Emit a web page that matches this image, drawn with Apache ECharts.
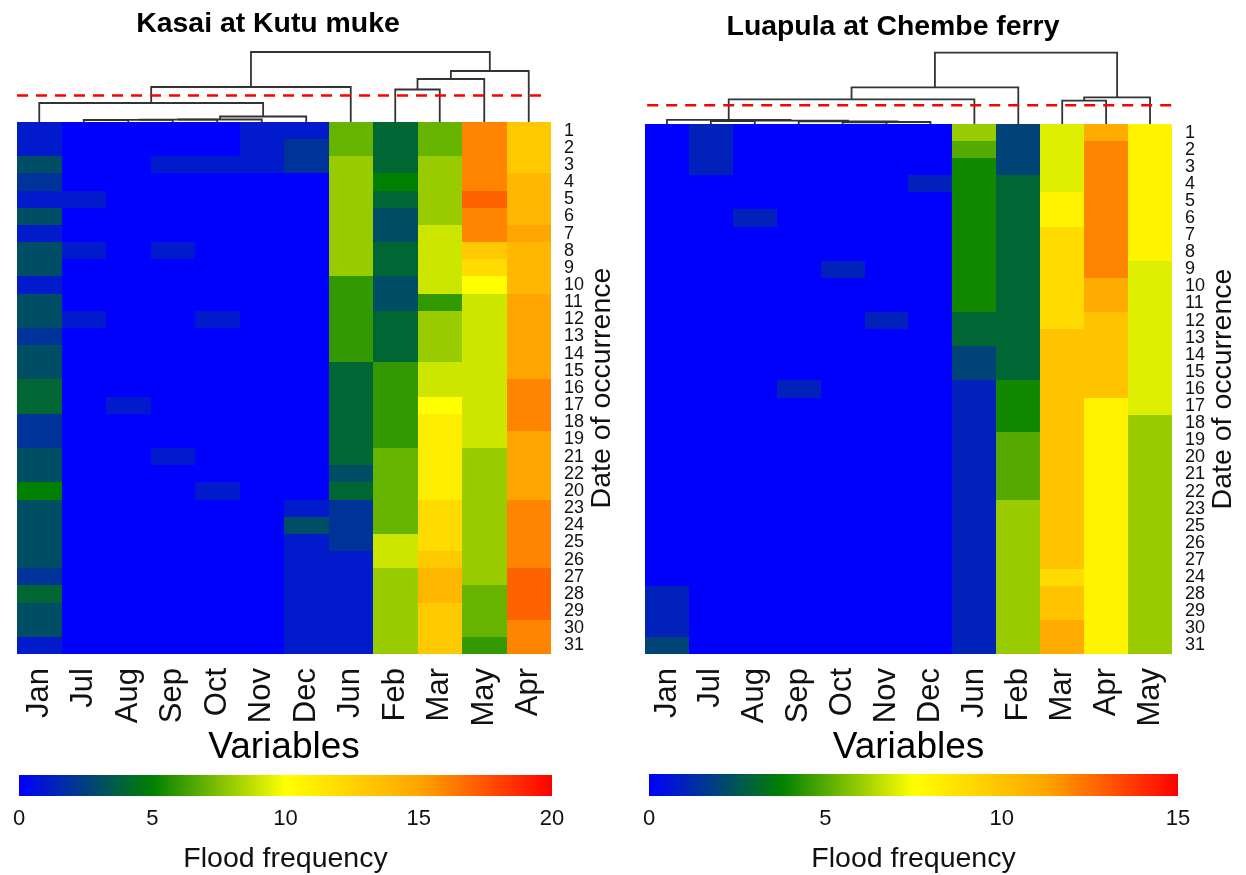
<!DOCTYPE html>
<html><head><meta charset="utf-8">
<style>html,body{margin:0;padding:0;background:#fff}#c{width:1246px;height:875px}</style>
<script src="https://cdn.jsdelivr.net/npm/echarts@6/dist/echarts.min.js"></script>
</head><body><div id="c"></div>
<script>
const FONT = '"Liberation Sans", Arial, sans-serif';
const kasaiMonths = ['Jan','Jul','Aug','Sep','Oct','Nov','Dec','Jun','Feb','Mar','May','Apr'];
const luapulaMonths = ['Jan','Jul','Aug','Sep','Oct','Nov','Dec','Jun','Feb','Mar','Apr','May'];
const kasaiDays = ['1','2','3','4','5','6','7','8','9','10','11','12','13','14','15','16','17','18','19','21','22','20','23','24','25','26','27','28','29','30','31'];
const luapulaDays = ['1','2','3','4','5','6','7','8','9','10','11','12','13','14','15','16','17','18','19','20','21','22','23','25','26','27','24','28','29','30','31'];

// Kasai at Kutu muke: flood frequency, one array per column, top row first
const kJan = [1,1,3,2,1,3,1,3,3,1,3,3,2,3,3,4,4,2,2,3,3,5,3,3,3,3,2,4,3,3,1];
const kJul = [0,0,0,0,1,0,0,1,0,0,0,1,0,0,0,0,0,0,0,0,0,0,0,0,0,0,0,0,0,0,0];
const kAug = [0,0,0,0,0,0,0,0,0,0,0,0,0,0,0,0,1,0,0,0,0,0,0,0,0,0,0,0,0,0,0];
const kSep = [0,0,1,0,0,0,0,1,0,0,0,0,0,0,0,0,0,0,0,1,0,0,0,0,0,0,0,0,0,0,0];
const kOct = [0,0,1,0,0,0,0,0,0,0,0,1,0,0,0,0,0,0,0,0,0,1,0,0,0,0,0,0,0,0,0];
const kNov = [1,1,1,0,0,0,0,0,0,0,0,0,0,0,0,0,0,0,0,0,0,0,0,0,0,0,0,0,0,0,0];
const kDec = [1,2,2,0,0,0,0,0,0,0,0,0,0,0,0,0,0,0,0,0,0,0,1,3,1,1,1,1,1,1,1];
const kJun = [7,7,8,8,8,8,8,8,8,6,6,6,6,6,4,4,4,4,4,4,3,4,2,2,2,1,1,1,1,1,1];
const kFeb = [4,4,4,5,4,3,3,4,4,3,3,4,4,4,6,6,6,6,6,7,7,7,7,7,9,9,8,8,8,8,8];
const kMar = [7,7,8,8,8,8,9,9,9,9,6,8,8,8,9,9,10,11,11,11,11,11,12,12,12,13,14,14,13,13,13];
const kMay = [16,16,16,16,17,16,16,13,12,10,9,9,9,9,9,9,9,9,9,8,8,8,8,8,8,8,8,7,7,7,6];
const kApr = [13,13,13,14,14,14,15,14,14,14,15,15,15,15,15,16,16,16,15,15,15,15,16,16,16,16,17,17,17,16,16];
const kasaiColumns = [kJan,kJul,kAug,kSep,kOct,kNov,kDec,kJun,kFeb,kMar,kMay,kApr];

// Luapula at Chembe ferry
const lJan = [0,0,0,0,0,0,0,0,0,0,0,0,0,0,0,0,0,0,0,0,0,0,0,0,0,0,0,1,1,1,2];
const lJul = [1,1,1,0,0,0,0,0,0,0,0,0,0,0,0,0,0,0,0,0,0,0,0,0,0,0,0,0,0,0,0];
const lAug = [0,0,0,0,0,1,0,0,0,0,0,0,0,0,0,0,0,0,0,0,0,0,0,0,0,0,0,0,0,0,0];
const lSep = [0,0,0,0,0,0,0,0,0,0,0,0,0,0,0,1,0,0,0,0,0,0,0,0,0,0,0,0,0,0,0];
const lOct = [0,0,0,0,0,0,0,0,1,0,0,0,0,0,0,0,0,0,0,0,0,0,0,0,0,0,0,0,0,0,0];
const lNov = [0,0,0,0,0,0,0,0,0,0,0,1,0,0,0,0,0,0,0,0,0,0,0,0,0,0,0,0,0,0,0];
const lDec = [0,0,0,1,0,0,0,0,0,0,0,0,0,0,0,0,0,0,0,0,0,0,0,0,0,0,0,0,0,0,0];
const lJun = [6,5,4,4,4,4,4,4,4,4,4,3,3,2,2,1,1,1,1,1,1,1,1,1,1,1,1,1,1,1,1];
const lFeb = [2,2,2,3,3,3,3,3,3,3,3,3,3,3,3,4,4,4,5,5,5,5,6,6,6,6,6,6,6,6,6];
const lMar = [7,7,7,7,8,8,9,9,9,9,9,9,10,10,10,10,10,10,10,10,10,10,10,10,10,10,9,10,10,11,11];
const lApr = [11,12,12,12,12,12,12,12,12,11,11,10,10,10,10,10,8,8,8,8,8,8,8,8,8,8,8,8,8,8,8];
const lMay = [8,8,8,8,8,8,8,8,7,7,7,7,7,7,7,7,7,6,6,6,6,6,6,6,6,6,6,6,6,6,6];
const luapulaColumns = [lJan,lJul,lAug,lSep,lOct,lNov,lDec,lJun,lFeb,lMar,lApr,lMay];

// Dendrograms, hclust style: negative = leaf position, positive = earlier merge, then height
const kasaiMerge = [[-2,-3,2],[1,-4,2.1],[2,-5,2.3],[3,-6,2.5],[4,-7,5.5],[-1,5,19],[6,-8,35],[-9,-10,32.5],[8,-11,43],[9,-12,51],[7,10,70]];
const luapulaMerge = [[-5,-6,1.7],[1,-7,2],[-4,2,2.6],[-2,-3,3],[4,3,3.4],[-1,5,4.2],[6,-8,24.7],[7,-9,36.7],[-10,-11,23.3],[9,-12,26.7],[8,10,71.3]];
const kasaiCut = 26.5;
const luapulaCut = 18.7;
const kasaiMax = 20;
const luapulaMax = 15;
const rampColors = ['#0000ff','#008000','#ffff00','#ffa500','#ff0000'];

function cells(cols){const out=[];cols.forEach((c,x)=>c.forEach((v,y)=>out.push([x,y,v])));return out;}
function segments(merge){
  const nodes=[];
  const get=i=>i<0?{x:-i-0.5,h:0}:nodes[i-1];
  return merge.map(m=>{
    const a=get(m[0]),b=get(m[1]);
    nodes.push({x:(a.x+b.x)/2,h:m[2]});
    return [a.x,b.x,m[2],a.h,b.h];
  });
}
const renderCell=(p,api)=>{
  const c=api.coord([api.value(0),api.value(1)]),s=api.size([1,1]);
  const x0=Math.round(c[0]-s[0]/2),x1=Math.round(c[0]+s[0]/2),y0=Math.round(c[1]-s[1]/2),y1=Math.round(c[1]+s[1]/2);
  return {type:'rect',shape:{x:x0,y:y0,width:x1-x0,height:y1-y0},style:{fill:api.visual('color')}};
};
const renderDendro=(p,api)=>{
  const xl=api.value(0),xr=api.value(1),h=api.value(2),hl=api.value(3),hr=api.value(4);
  return {type:'polyline',shape:{points:[api.coord([xl,hl]),api.coord([xl,h]),api.coord([xr,h]),api.coord([xr,hr])]},
    style:{stroke:'#333',lineWidth:1.8,fill:null}};
};
const renderBar=(p,api)=>{
  const a=api.coord([api.value(0),0]),b=api.coord([api.value(1),1]);
  return {type:'rect',shape:{x:a[0],y:b[1],width:b[0]-a[0],height:a[1]-b[1]},
    style:{fill:new echarts.graphic.LinearGradient(0,0,1,0,rampColors.map((c,i)=>({offset:i/(rampColors.length-1),color:c})))}};
};

const panels=[
 {title:'Kasai at Kutu muke',tx:263,ty:5,months:kasaiMonths,days:kasaiDays,cols:kasaiColumns,merge:kasaiMerge,cut:kasaiCut,cutX:[0,11.93],max:kasaiMax,
  heat:{left:17,top:122,width:534,height:532},den:{left:17,top:50,width:534,height:72},dh:72,bar:{left:19,top:775,width:533,height:21}},
 {title:'Luapula at Chembe ferry',tx:888,ty:8,months:luapulaMonths,days:luapulaDays,cols:luapulaColumns,merge:luapulaMerge,cut:luapulaCut,cutX:[0.05,12],max:luapulaMax,
  heat:{left:645,top:124,width:527,height:530},den:{left:645,top:50,width:527,height:74},dh:74,bar:{left:649,top:774,width:529,height:22}}
];
const grid=[],xAxis=[],yAxis=[],series=[],visualMap=[],title=[];
panels.forEach((p,i)=>{
  const g=grid.length;
  grid.push(p.heat,p.den,p.bar);
  title.push({text:p.title,left:p.tx,top:p.ty,textAlign:'center',textStyle:{fontFamily:FONT,fontSize:28.4,fontWeight:'bold',color:'#000'}});
  xAxis.push({gridIndex:g,type:'category',data:p.months,position:'bottom',name:'Variables',nameLocation:'middle',nameGap:75,nameMoveOverlap:false,
    nameTextStyle:{fontFamily:FONT,fontSize:37,color:'#000'},
    axisLine:{show:false},axisTick:{show:false},splitLine:{show:false},
    axisLabel:{interval:0,rotate:90,margin:14,fontFamily:FONT,fontSize:31,color:'#111'}});
  yAxis.push({gridIndex:g,type:'category',data:p.days,position:'right',inverse:true,name:'Date of occurrence',nameLocation:'middle',nameRotate:90,nameGap:37,
    nameTextStyle:{fontFamily:FONT,fontSize:28.5,color:'#111'},
    axisLine:{show:false},axisTick:{show:false},splitLine:{show:false},
    axisLabel:{interval:0,margin:13,fontFamily:FONT,fontSize:18,color:'#111'}});
  xAxis.push({gridIndex:g+1,type:'value',min:0,max:12,show:false});
  yAxis.push({gridIndex:g+1,type:'value',min:0,max:p.dh,show:false});
  xAxis.push({gridIndex:g+2,type:'value',min:0,max:p.max,interval:5,name:'Flood frequency',nameLocation:'middle',nameGap:49,
    nameTextStyle:{fontFamily:FONT,fontSize:28.5,color:'#111'},
    axisLine:{show:false},axisTick:{show:false},splitLine:{show:false},
    axisLabel:{margin:12,fontFamily:FONT,fontSize:22,color:'#111'}});
  yAxis.push({gridIndex:g+2,type:'value',min:0,max:1,show:false});
  const sHeat=series.length;
  series.push({type:'custom',xAxisIndex:g,yAxisIndex:g,data:cells(p.cols),renderItem:renderCell,encode:{x:0,y:1},animation:false,silent:true});
  series.push({type:'custom',xAxisIndex:g+1,yAxisIndex:g+1,data:segments(p.merge),renderItem:renderDendro,animation:false,silent:true,clip:false});
  series.push({type:'line',xAxisIndex:g+1,yAxisIndex:g+1,data:[[p.cutX[0],p.cut],[p.cutX[1],p.cut]],symbol:'none',silent:true,animation:false,z:5,
    lineStyle:{color:'#ff0000',width:2.4,type:[11,8]}});
  series.push({type:'custom',xAxisIndex:g+2,yAxisIndex:g+2,data:[[0,p.max]],renderItem:renderBar,animation:false,silent:true});
  visualMap.push({type:'continuous',show:false,seriesIndex:sHeat,min:0,max:p.max,dimension:2,inRange:{color:rampColors}});
});
const chart=echarts.init(document.getElementById('c'),null,{renderer:'canvas'});
chart.setOption({backgroundColor:'#fff',animation:false,title,grid,xAxis,yAxis,visualMap,series});
</script></body></html>
